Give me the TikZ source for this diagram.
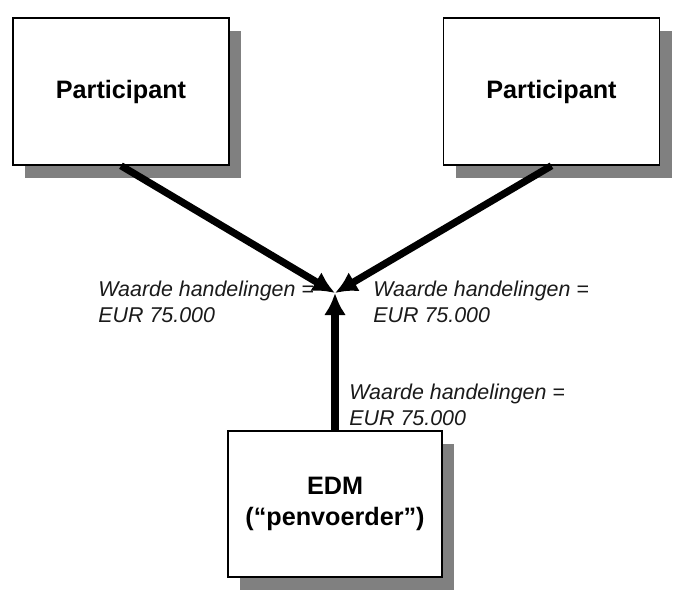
\documentclass[tikz,border=0pt]{standalone}
\usepackage{fontspec}
\setmainfont{Liberation Sans}
\usetikzlibrary{arrows.meta,positioning,shadows}
\definecolor{shadowgrey}{HTML}{808080}
\definecolor{ink}{HTML}{1A1A1A}

\begin{document}
\begin{tikzpicture}[
  x=0.5pt, y=-0.5pt,
  >=Latex,
  party/.style={draw=black, fill=white, line width=0.75pt,
    minimum width=108pt, minimum height=73.5pt, inner sep=4pt, align=center,
    font=\fontsize{12.6}{15.5}\selectfont\bfseries,
    drop shadow={shadow xshift=6pt, shadow yshift=-6.5pt, fill=shadowgrey, opacity=1}},
  amount/.style={anchor=north west, inner sep=0pt, align=left,
    font=\fontsize{10.7}{13}\selectfont\itshape, text=ink},
  flow/.style={-{Latex[length=11pt, width=11pt]}, line width=3.6pt}
]
\useasboundingbox (0,0) rectangle (685,600);

\node[party] (lp) at (121,91.5) {Participant};
\node[party, right=106.5pt of lp] (rp) {Participant};
\node[party, minimum width=107pt, minimum height=73pt] (edm) at (335,504) {EDM\\(“penvoerder”)};
\coordinate (hub) at (335,293);

\foreach \a/\b in {lp/south,rp/south,edm/north}
  \draw[flow] (\a.\b) -- (hub);

\node[amount] (lval) at (98,281) {Waarde handelingen =\\EUR 75.000};
\node[amount] (rval) at (373,281) {Waarde handelingen =\\EUR 75.000};
\node[amount] (bval) at (349,384) {Waarde handelingen =\\EUR 75.000};

\end{tikzpicture}
\end{document}
